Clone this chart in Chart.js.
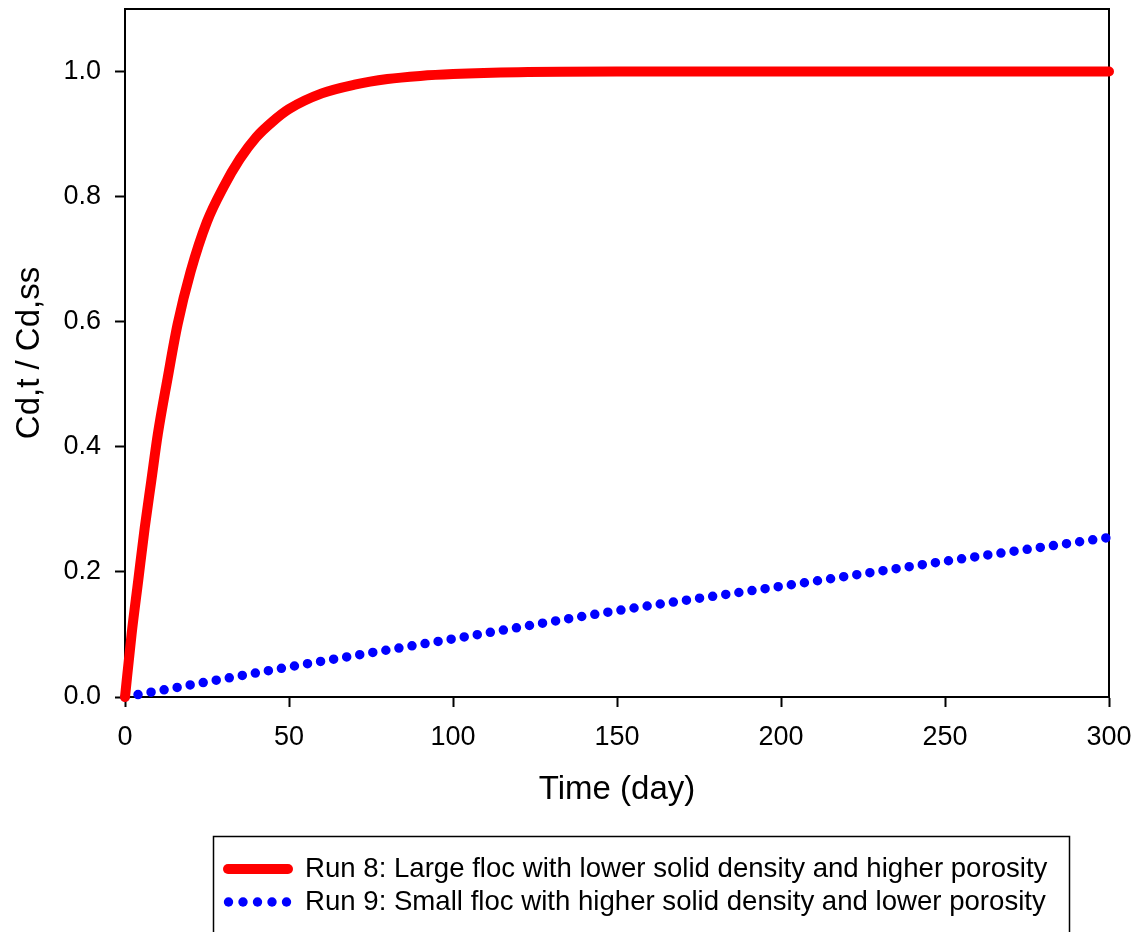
<!DOCTYPE html>
<html>
<head>
    <title>Cd,t / Cd,ss</title>
    <script src="https://cdn.jsdelivr.net/npm/chart.js"></script>
    <style>
        body { margin: 0; background: #fff; }
        #graphContainer { width: 1143px; height: 932px; }
    </style>
</head>
<body>
    <div id="graphContainer">
        <canvas id="myChart" width="1143" height="932"></canvas>
    </div>

<script>
    // Run 8 (red, solid)
    const run8Days = [0, 2, 4, 6, 8, 10, 13, 16, 20, 25, 30, 35, 40, 45, 50, 60, 70, 80, 90, 100, 120, 150, 200, 250, 300];
    const run8Values = [0, 0.10, 0.185, 0.27, 0.345, 0.42, 0.51, 0.595, 0.68, 0.76, 0.815, 0.86, 0.895, 0.92, 0.94, 0.965, 0.979, 0.988, 0.993, 0.996, 0.999, 1.0, 1.0, 1.0, 1.0];

    // Run 9 (blue, dotted)
    const run9Days = [0, 50, 100, 150, 200, 250, 300];
    const run9Values = [0, 0.048, 0.093, 0.138, 0.177, 0.217, 0.255];

    const legendLabels = [
        'Run 8: Large floc with lower solid density and higher porosity',
        'Run 9: Small floc with higher solid density and lower porosity'
    ];
    const xTitle = 'Time (day)';
    const yTitle = 'Cd,t / Cd,ss';

    const FONT = '"Liberation Sans", Arial, sans-serif';
    Chart.defaults.color = '#000';
    Chart.defaults.font.family = FONT;

    function toPoints(xs, ys) {
        return xs.map((x, i) => ({ x: x, y: ys[i] }));
    }

    // top and right edges of the frame
    const framePlugin = {
        id: 'frame',
        beforeDatasetsDraw(chart) {
            const { ctx, chartArea: a } = chart;
            ctx.save();
            ctx.strokeStyle = '#000';
            ctx.lineWidth = 2;
            ctx.beginPath();
            ctx.moveTo(a.left, a.top);
            ctx.lineTo(a.right, a.top);
            ctx.lineTo(a.right, a.bottom);
            ctx.stroke();
            ctx.restore();
        }
    };

    // boxed legend below the x axis
    const legendBoxPlugin = {
        id: 'legendBox',
        afterDraw(chart) {
            const ctx = chart.ctx;
            ctx.save();
            ctx.strokeStyle = '#000';
            ctx.lineWidth = 1.5;
            ctx.strokeRect(213.5, 836.5, 856, 110);

            const rows = [869, 902];
            // red sample
            ctx.strokeStyle = '#ff0000';
            ctx.lineWidth = 10;
            ctx.lineCap = 'round';
            ctx.beginPath();
            ctx.moveTo(228, rows[0]);
            ctx.lineTo(288, rows[0]);
            ctx.stroke();
            // blue dots
            ctx.fillStyle = '#0000ff';
            for (let i = 0; i < 5; i++) {
                ctx.beginPath();
                ctx.arc(228.5 + i * 14.5, rows[1], 4.7, 0, Math.PI * 2);
                ctx.fill();
            }
            ctx.fillStyle = '#000';
            ctx.font = '27.6px ' + FONT;
            ctx.textBaseline = 'middle';
            ctx.textAlign = 'left';
            legendLabels.forEach((t, i) => ctx.fillText(t, 305, rows[i]));
            ctx.restore();
        }
    };

    const ctx = document.getElementById('myChart').getContext('2d');
    const myChart = new Chart(ctx, {
        type: 'line',
        data: {
            datasets: [
                {
                    label: legendLabels[0],
                    data: toPoints(run8Days, run8Values),
                    borderColor: '#ff0000',
                    borderWidth: 10,
                    borderCapStyle: 'round',
                    borderJoinStyle: 'round',
                    pointRadius: 0,
                    cubicInterpolationMode: 'monotone',
                    clip: false,
                },
                {
                    label: legendLabels[1],
                    data: toPoints(run9Days, run9Values),
                    borderColor: '#0000ff',
                    borderWidth: 9.5,
                    borderDash: [0, 13.25],
                    borderCapStyle: 'round',
                    pointRadius: 0,
                    cubicInterpolationMode: 'monotone',
                    clip: false,
                },
            ],
        },
        options: {
            responsive: false,
            animation: false,
            layout: {
                padding: { left: 0, top: 9, right: 34, bottom: 110 },
            },
            plugins: {
                legend: { display: false },
                tooltip: { enabled: false },
            },
            scales: {
                x: {
                    type: 'linear',
                    min: 0,
                    max: 300,
                    ticks: {
                        stepSize: 50,
                        padding: 14,
                        font: { size: 27 },
                        maxRotation: 0,
                    },
                    grid: {
                        drawOnChartArea: false,
                        tickLength: 10,
                        tickWidth: 2,
                        tickColor: '#000',
                    },
                    border: { color: '#000', width: 2 },
                    title: {
                        display: true,
                        text: xTitle,
                        font: { size: 33 },
                        padding: { top: 0, bottom: 12 },
                    },
                    afterFit(scale) {
                        scale.height = 125;
                        scale.paddingLeft = 0;
                        scale.paddingRight = 0;
                    },
                },
                y: {
                    type: 'linear',
                    min: 0,
                    max: 1.1,
                    ticks: {
                        stepSize: 0.2,
                        padding: 14,
                        font: { size: 27 },
                        callback: v => v.toFixed(1),
                    },
                    afterBuildTicks(scale) {
                        scale.ticks = scale.ticks.filter(t => t.value <= 1.0001);
                    },
                    grid: {
                        drawOnChartArea: false,
                        tickLength: 10,
                        tickWidth: 2,
                        tickColor: '#000',
                    },
                    border: { color: '#000', width: 2 },
                    title: {
                        display: true,
                        text: yTitle,
                        font: { size: 33 },
                        padding: { top: 10, bottom: 0 },
                    },
                    afterFit(scale) {
                        scale.width = 125;
                        scale.paddingTop = 0;
                        scale.paddingBottom = 0;
                    },
                },
            },
        },
        plugins: [framePlugin, legendBoxPlugin],
    });
</script>
</body>
</html>
